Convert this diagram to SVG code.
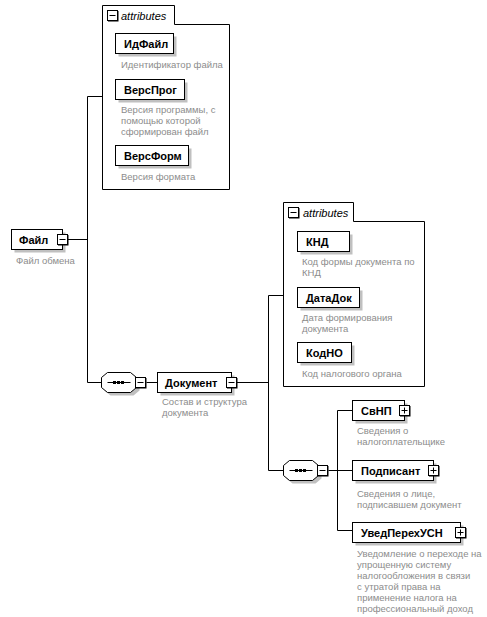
<svg xmlns="http://www.w3.org/2000/svg" width="487" height="617" viewBox="0 0 487 617">
<defs>
<style>
.bg{fill:#ffffff}
.box{fill:#ffffff;stroke:#000000;stroke-width:1}
.sh{fill:#c0c0c0}
.ln{stroke:#000000;stroke-width:1;fill:none}
.name{font-family:"Liberation Sans",Arial,sans-serif;font-size:11px;font-weight:bold;fill:#000000}
.desc{font-family:"Liberation Sans",Arial,sans-serif;font-size:9.5px;fill:#8c8c8c}
.attr{font-family:"Liberation Sans",Arial,sans-serif;font-size:11px;font-style:italic;fill:#000000}
.icon{fill:#ffffff;stroke:#000000;stroke-width:1}
</style>
<g id="minus"><rect x="0.5" y="0.5" width="10.5" height="10.5" fill="#000"/><rect class="icon" x="0" y="0" width="10" height="10"/><line class="ln" x1="2" y1="5" x2="8" y2="5"/></g>
<g id="plus"><rect x="0.5" y="0.5" width="10.5" height="10.5" fill="#000"/><rect class="icon" x="0" y="0" width="10" height="10"/><line class="ln" x1="2" y1="5" x2="8" y2="5"/><line class="ln" x1="5" y1="2" x2="5" y2="8"/></g>
<g id="seq">
<polygon class="sh" points="9,3 32,3 38,8 38,18 32,23 9,23 3,18 3,8"/>
<polygon class="box" points="6,0 29,0 35,5 35,15 29,20 6,20 0,15 0,5"/>
<line class="ln" x1="6" y1="10" x2="29" y2="10"/>
<rect x="11.5" y="8.5" width="3" height="3" fill="#000"/>
<rect x="15.5" y="8.5" width="3" height="3" fill="#000"/>
<rect x="19.5" y="8.5" width="3" height="3" fill="#000"/>
</g>
</defs>
<rect class="bg" x="0" y="0" width="487" height="617"/>

<g id="connectors">
<line class="ln" x1="67.5" y1="239.5" x2="87.5" y2="239.5"/>
<line class="ln" x1="87.5" y1="96.5" x2="87.5" y2="382.5"/>
<line class="ln" x1="87.5" y1="96.5" x2="102.5" y2="96.5"/>
<line class="ln" x1="87.5" y1="382.5" x2="101.5" y2="382.5"/>
<line class="ln" x1="146.5" y1="382.5" x2="157.5" y2="382.5"/>
<line class="ln" x1="236.5" y1="382.5" x2="268.5" y2="382.5"/>
<line class="ln" x1="268.5" y1="295.5" x2="268.5" y2="470.5"/>
<line class="ln" x1="268.5" y1="295.5" x2="283.5" y2="295.5"/>
<line class="ln" x1="268.5" y1="470.5" x2="283.5" y2="470.5"/>
<line class="ln" x1="328.5" y1="470.5" x2="352.5" y2="470.5"/>
<line class="ln" x1="337.5" y1="410.5" x2="337.5" y2="530.5"/>
<line class="ln" x1="337.5" y1="410.5" x2="352.5" y2="410.5"/>
<line class="ln" x1="337.5" y1="530.5" x2="352.5" y2="530.5"/>
</g>

<g id="attrs1">
<path class="box" d="M102.5,5.5 H174.5 V24.5 H229.5 V189.5 H102.5 Z"/>
<use href="#minus" x="107.5" y="10.5"/>
<text class="attr" x="121" y="20">attributes</text>
</g>

<g id="ИдФайл">
<rect class="sh" x="118.5" y="36.5" width="58" height="20"/>
<rect class="box" x="115.5" y="33.5" width="58" height="20"/>
<text class="name" x="124" y="47.5">ИдФайл</text>
<text class="desc" x="121" y="68">Идентификатор файла</text>
</g>

<g id="ВерсПрог">
<rect class="sh" x="118.5" y="82.5" width="69" height="20"/>
<rect class="box" x="115.5" y="79.5" width="69" height="20"/>
<text class="name" x="124" y="93.5">ВерсПрог</text>
<text class="desc" x="121" y="113">Версия программы, с</text>
<text class="desc" x="121" y="124">помощью которой</text>
<text class="desc" x="121" y="135">сформирован файл</text>
</g>

<g id="ВерсФорм">
<rect class="sh" x="118.5" y="148.5" width="73" height="20"/>
<rect class="box" x="115.5" y="145.5" width="73" height="20"/>
<text class="name" x="124" y="159.5">ВерсФорм</text>
<text class="desc" x="121" y="180">Версия формата</text>
</g>

<g id="Файл">
<rect class="sh" x="14.5" y="232.5" width="51" height="20"/>
<rect class="box" x="11.5" y="229.5" width="51" height="20"/>
<text class="name" x="19" y="243.5">Файл</text>
<use href="#minus" x="57.5" y="234.5"/>
<text class="desc" x="16" y="264">Файл обмена</text>
</g>

<g id="seq1">
<use href="#seq" x="101.5" y="372.5"/>
<use href="#minus" x="135.5" y="377.5"/>
</g>

<g id="Документ">
<rect class="sh" x="160.5" y="375.5" width="74" height="20"/>
<rect class="box" x="157.5" y="372.5" width="74" height="20"/>
<text class="name" x="165" y="386.5">Документ</text>
<use href="#minus" x="226.5" y="377.5"/>
<text class="desc" x="162" y="405">Состав и структура</text>
<text class="desc" x="162" y="416">документа</text>
</g>

<g id="attrs2">
<path class="box" d="M283.5,202.5 H353.5 V221.5 H424.5 V386.5 H283.5 Z"/>
<use href="#minus" x="288.5" y="207.5"/>
<text class="attr" x="303" y="217">attributes</text>
</g>

<g id="КНД">
<rect class="sh" x="300.5" y="234.5" width="52" height="20"/>
<rect class="box" x="297.5" y="231.5" width="52" height="20"/>
<text class="name" x="306" y="245.5">КНД</text>
<text class="desc" x="302" y="265">Код формы документа по</text>
<text class="desc" x="302" y="276">КНД</text>
</g>

<g id="ДатаДок">
<rect class="sh" x="300.5" y="290.5" width="62" height="20"/>
<rect class="box" x="297.5" y="287.5" width="62" height="20"/>
<text class="name" x="306" y="301.5">ДатаДок</text>
<text class="desc" x="302" y="321">Дата формирования</text>
<text class="desc" x="302" y="332">документа</text>
</g>

<g id="КодНО">
<rect class="sh" x="300.5" y="345.5" width="54" height="20"/>
<rect class="box" x="297.5" y="342.5" width="54" height="20"/>
<text class="name" x="306" y="356.5">КодНО</text>
<text class="desc" x="302" y="377">Код налогового органа</text>
</g>

<g id="seq2">
<use href="#seq" x="283.5" y="460.5"/>
<use href="#minus" x="317.5" y="465.5"/>
</g>

<g id="СвНП">
<rect class="sh" x="355.5" y="403.5" width="52" height="20"/>
<rect class="box" x="352.5" y="400.5" width="52" height="20"/>
<text class="name" x="361" y="414.5">СвНП</text>
<use href="#plus" x="399.5" y="405.5"/>
<text class="desc" x="357" y="434">Сведения о</text>
<text class="desc" x="357" y="445">налогоплательщике</text>
</g>

<g id="Подписант">
<rect class="sh" x="355.5" y="463.5" width="81" height="20"/>
<rect class="box" x="352.5" y="460.5" width="81" height="20"/>
<text class="name" x="361" y="474.5">Подписант</text>
<use href="#plus" x="428.5" y="465.5"/>
<text class="desc" x="357" y="497">Сведения о лице,</text>
<text class="desc" x="357" y="508">подписавшем документ</text>
</g>

<g id="УведПерехУСН">
<rect class="sh" x="355.5" y="525.5" width="108" height="20"/>
<rect class="box" x="352.5" y="522.5" width="108" height="20"/>
<text class="name" x="361" y="536.5">УведПерехУСН</text>
<use href="#plus" x="455.5" y="527.5"/>
<text class="desc" x="357" y="557">Уведомление о переходе на</text>
<text class="desc" x="357" y="568">упрощенную систему</text>
<text class="desc" x="357" y="579">налогообложения в связи</text>
<text class="desc" x="357" y="590">с утратой права на</text>
<text class="desc" x="357" y="601">применение налога на</text>
<text class="desc" x="357" y="612">профессиональный доход</text>
</g>
</svg>
